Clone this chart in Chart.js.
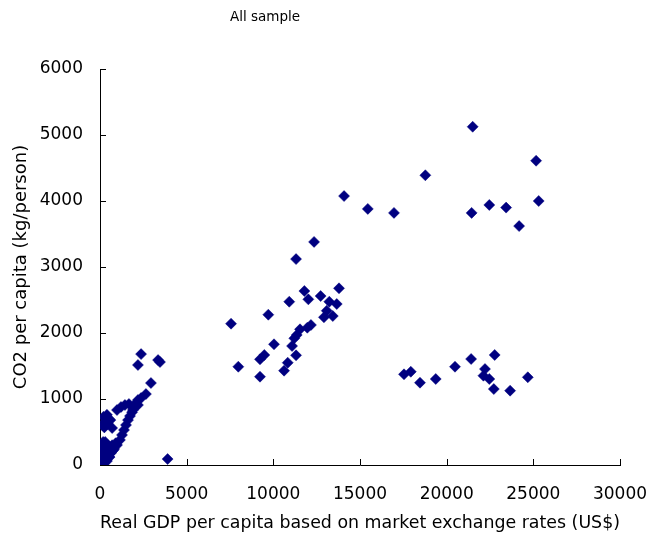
<!DOCTYPE html>
<html>
<head>
<meta charset="utf-8">
<script src="https://cdn.jsdelivr.net/npm/chart.js@4/dist/chart.umd.min.js"></script>
<style>
	body { margin: 0; background: #fff; }
	#wrap { width: 649px; height: 540px; }
</style>
</head>
<body>
<div id="wrap"><canvas id="grafic"></canvas></div>
<script>
// GDP per capita (US$) and CO2 per capita (kg/person), same order
const gdpSus = [21500, 25160, 25310, 18770, 14080, 15450, 16960, 21440, 22460, 23430, 24180];
const co2Sus = [5125, 4610, 4000, 4390, 4075, 3880, 3820, 3820, 3940, 3900, 3620];

const gdpDreapta = [17540, 17930, 18460, 19370, 20480, 21410, 22770, 22210, 22120, 22460, 22720, 23660, 24680];
const co2Dreapta = [1374, 1413, 1247, 1303, 1489, 1606, 1667, 1454, 1353, 1303, 1151, 1126, 1329];

const gdpMijloc = [12350, 11310, 11790, 12020, 13790, 12730, 13230, 13660, 13080, 12920, 13430, 10920, 9710, 7560,
	12170, 11960, 11540, 11350, 11210, 10040, 11080, 9480, 9230, 11310, 10830, 10620, 7980, 9230];
const co2Mijloc = [3380, 3120, 2636, 2510, 2677, 2560, 2474, 2439, 2338, 2238, 2257, 2474, 2277, 2141,
	2121, 2080, 2056, 1970, 1920, 1829, 1803, 1667, 1601, 1662, 1550, 1429, 1489, 1338];

const gdpStanga = [2370, 2190, 3350, 3460, 2940, 2650, 2370, 3900,
	980, 1210, 1440, 1670, 2020, 2190,
	2020, 1850, 1730, 1615, 1500, 1385, 1270, 1150, 980, 810, 635, 520, 1900, 2190,
	200, 400, 300, 500, 150, 450, 250, 600, 350, 700];
const co2Stanga = [1680, 1515, 1590, 1560, 1242, 1075, 1015, 90,
	833, 879, 909, 924, 924, 985,
	880, 800, 742, 680, 606, 530, 455, 380, 303, 242, 182, 121, 833, 909,
	730, 760, 660, 700, 600, 620, 570, 680, 720, 560];

const gdpOrigine = [100, 150, 200, 250, 300, 350, 400, 120, 180, 220, 80, 60, 500, 450, 600, 700, 550, 650, 300, 400, 250, 150, 800, 900, 750];
const co2Origine = [50, 120, 200, 280, 150, 80, 250, 300, 350, 100, 180, 250, 180, 300, 250, 300, 120, 200, 350, 60, 30, 20, 280, 330, 220];

const ticksX = [0, 5000, 10000, 15000, 20000, 25000, 30000];
const ticksY = [0, 1000, 2000, 3000, 4000, 5000, 6000];

const culoare = '#000080';
const fontGrafic = 'DejaVu Sans';

function puncte(xs, ys) {
	return xs.map((x, i) => ({ x: x, y: ys[i] }));
}

const toatePunctele = [].concat(
	puncte(gdpSus, co2Sus),
	puncte(gdpDreapta, co2Dreapta),
	puncte(gdpMijloc, co2Mijloc),
	puncte(gdpStanga, co2Stanga),
	puncte(gdpOrigine, co2Origine)
);

// Excel style tick marks pointing into the plot area
const tickuriInterioare = {
	id: 'tickuriInterioare',
	beforeDatasetsDraw(chart) {
		const ctx = chart.ctx;
		const sx = chart.scales.x, sy = chart.scales.y;
		const a = chart.chartArea;
		ctx.save();
		ctx.strokeStyle = '#000';
		ctx.lineWidth = 1;
		ctx.beginPath();
		for (let v of ticksX) {
			const px = Math.round(sx.getPixelForValue(v)) + 0.5;
			ctx.moveTo(px, a.bottom);
			ctx.lineTo(px, a.bottom - 6);
		}
		for (let v of ticksY) {
			const py = Math.round(sy.getPixelForValue(v)) + 0.5;
			ctx.moveTo(a.left, py);
			ctx.lineTo(a.left + 6, py);
		}
		ctx.stroke();
		ctx.restore();
	}
};

// chart title sits left of centre in the original, so it is drawn by hand
const titlu = {
	id: 'titlu',
	afterDraw(chart) {
		const ctx = chart.ctx;
		ctx.save();
		ctx.font = '13.5px "' + fontGrafic + '"';
		ctx.fillStyle = '#000';
		ctx.textAlign = 'center';
		ctx.textBaseline = 'middle';
		ctx.fillText('All sample', 265, 17);
		ctx.restore();
	}
};

window.addEventListener('load', function () {
	new Chart(document.getElementById('grafic'), {
		type: 'scatter',
		data: {
			datasets: [{
				label: 'All sample',
				data: toatePunctele,
				pointStyle: 'rectRot',
				pointRadius: 5.5,
				pointBorderWidth: 0.5,
				backgroundColor: culoare,
				borderColor: culoare
			}]
		},
		options: {
			responsive: true,
			maintainAspectRatio: false,
			animation: false,
			layout: { padding: { top: 69, right: 29, left: 0, bottom: 0 } },
			plugins: {
				legend: { display: false },
				tooltip: { enabled: false }
			},
			scales: {
				x: {
					type: 'linear',
					min: 0,
					max: 30000,
					afterFit(scale) {
						scale.height = 75;
						scale.paddingLeft = 0;
						scale.paddingRight = 0;
					},
					afterBuildTicks(scale) { scale.ticks = ticksX.map(v => ({ value: v })); },
					grid: { display: false, drawTicks: false },
					border: { display: true, color: '#000', width: 1 },
					ticks: {
						padding: 19,
						maxRotation: 0,
						color: '#000',
						font: { family: fontGrafic, size: 17 },
						callback: v => String(v)
					},
					title: {
						display: true,
						text: 'Real GDP per capita based on market exchange rates (US$)',
						color: '#000',
						font: { family: fontGrafic, size: 18 },
						padding: { top: 0, bottom: 6 }
					}
				},
				y: {
					type: 'linear',
					min: 0,
					max: 6000,
					afterFit(scale) { scale.width = 100; },
					afterBuildTicks(scale) { scale.ticks = ticksY.map(v => ({ value: v })); },
					grid: { display: false, drawTicks: false },
					border: { display: true, color: '#000', width: 1 },
					ticks: {
						padding: 17,
						color: '#000',
						font: { family: fontGrafic, size: 17 },
						callback: v => String(v)
					},
					title: {
						display: true,
						text: 'CO2 per capita (kg/person)',
						color: '#000',
						font: { family: fontGrafic, size: 18 },
						padding: { top: 11, bottom: 0 }
					}
				}
			}
		},
		plugins: [tickuriInterioare, titlu]
	});
});
</script>
</body>
</html>
